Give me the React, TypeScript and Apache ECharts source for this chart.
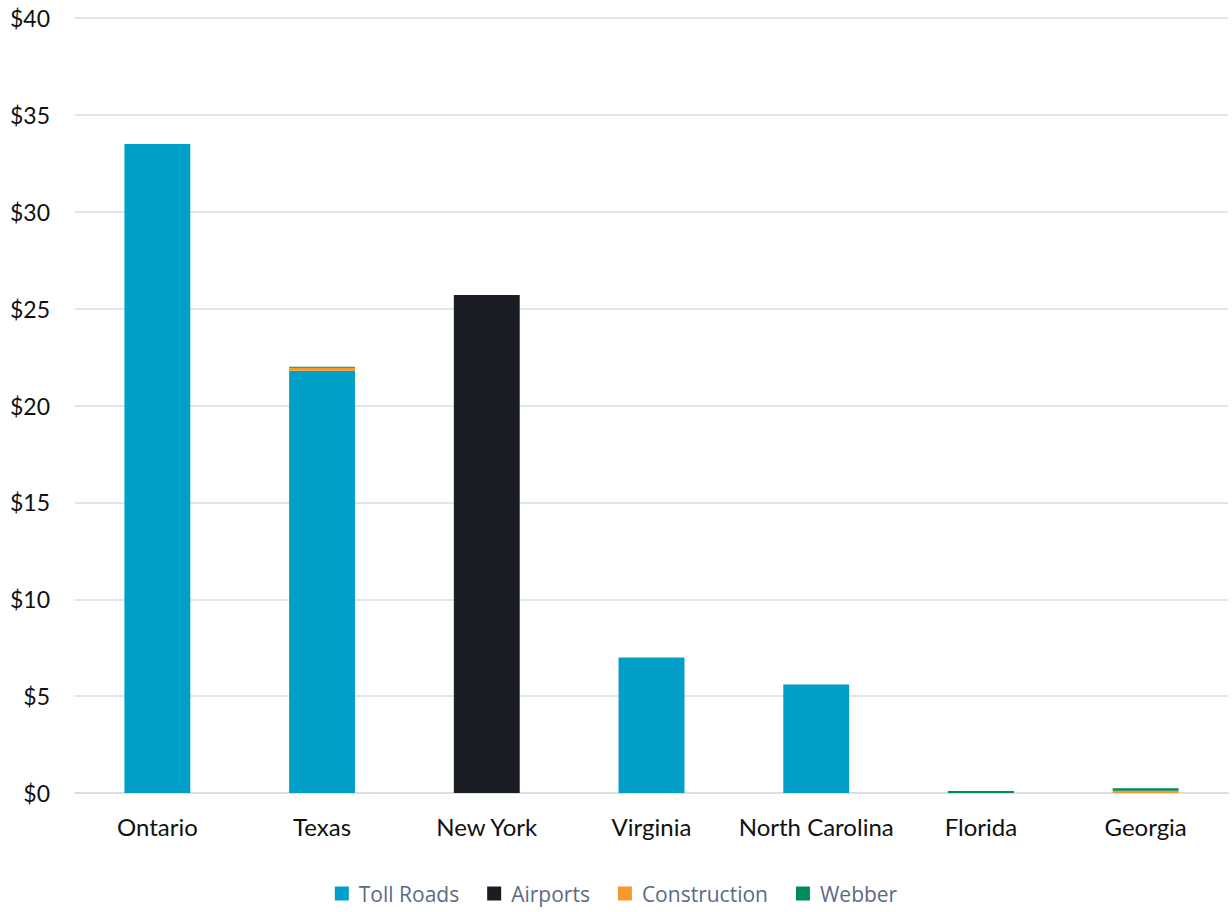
import React, { useEffect, useRef } from "react";
import * as echarts from "echarts";

const categories = ["Ontario", "Texas", "New York", "Virginia", "North Carolina", "Florida", "Georgia"];
const tollRoads = [33.5, 21.8, 0, 7.0, 5.6, 0, 0];
const airports = [0, 0, 25.7, 0, 0, 0, 0];
const construction = [0, 0.15, 0, 0, 0, 0, 0.12];
const webber = [0, 0.05, 0, 0, 0, 0.1, 0.12];
const yTicks = [0, 5, 10, 15, 20, 25, 30, 35, 40];

const COLORS = {
  toll: "#009FC7",
  airports: "#1A1D24",
  construction: "#F7982B",
  webber: "#008A5E",
};

export default function App() {
  const ref = useRef<HTMLDivElement>(null);

  useEffect(() => {
    if (!ref.current) return;
    const chart = echarts.init(ref.current, null, { renderer: "svg" });
    const font = "Lato, 'Open Sans', sans-serif";
    const mk = (name: string, data: number[], color: string) => ({
      name,
      type: "bar" as const,
      stack: "total",
      data,
      barWidth: "40%",
      itemStyle: { color },
    });
    chart.setOption({
      animation: false,
      backgroundColor: "#ffffff",
      grid: { left: 75, right: 4, top: 18, bottom: 119, containLabel: false },
      legend: {
        bottom: 3,
        left: "center",
        itemWidth: 14,
        itemHeight: 14,
        itemGap: 28,
        icon: "rect",
        textStyle: {
          color: "#5B6B85",
          fontSize: 21,
          fontFamily: "'Open Sans', sans-serif",
          padding: [0, 0, 0, 5],
        },
        data: ["Toll Roads", "Airports", "Construction", "Webber"],
      },
      xAxis: {
        type: "category",
        data: categories,
        axisTick: { show: false },
        axisLine: { lineStyle: { color: "#D9DDE6", width: 2 } },
        axisLabel: { color: "#111", fontSize: 24, fontFamily: font, margin: 21, interval: 0 },
      },
      yAxis: {
        type: "value",
        min: yTicks[0],
        max: yTicks[yTicks.length - 1],
        interval: 5,
        axisLine: { show: false },
        axisTick: { show: false },
        splitLine: { lineStyle: { color: "#D9DDE6", width: 1.5 } },
        axisLabel: {
          color: "#111",
          fontSize: 23,
          fontFamily: font,
          margin: 25,
          formatter: (v: number) => `$${v}`,
        },
      },
      series: [
        mk("Toll Roads", tollRoads, COLORS.toll),
        mk("Airports", airports, COLORS.airports),
        mk("Construction", construction, COLORS.construction),
        mk("Webber", webber, COLORS.webber),
      ],
    });
    return () => chart.dispose();
  }, []);

  return (
    <div
      ref={ref}
      style={{ position: "fixed", left: 0, top: 0, width: 1232, height: 912 }}
    />
  );
}
